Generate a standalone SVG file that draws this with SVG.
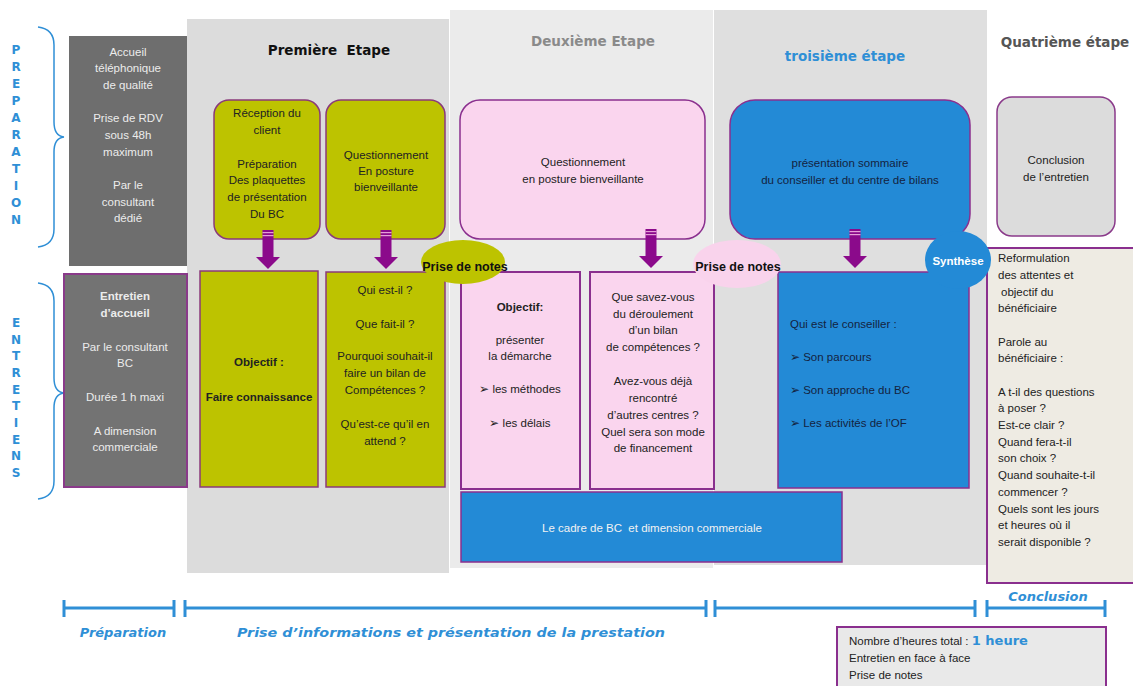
<svg xmlns="http://www.w3.org/2000/svg" width="1133" height="686" viewBox="0 0 1133 686">
<defs>
<style>
.t{font-family:"Liberation Sans",Arial,sans-serif;font-size:11.5px;text-anchor:middle;fill:#222}
.tl{font-family:"Liberation Sans",Arial,sans-serif;font-size:11.5px;fill:#222}
.w{fill:#ececec}
.nv{fill:#14233f}
.wh{fill:#ffffff}
.b{font-weight:bold}
.h{font-family:"DejaVu Sans",sans-serif;font-weight:bold;font-size:13.5px;text-anchor:middle;white-space:pre}
.v{font-family:"DejaVu Sans",sans-serif;font-weight:bold;font-size:12px;text-anchor:middle;fill:#2f8fd6}
.tm{font-family:"DejaVu Sans",sans-serif;font-weight:bold;font-style:italic;font-size:13px;text-anchor:middle;fill:#2f8fd6}
.pn{font-family:"Liberation Sans",Arial,sans-serif;font-size:12.5px;font-weight:bold;text-anchor:middle;fill:#111}
.yg{fill:#bdc300;stroke:#8a3a7a;stroke-width:1.5}
.pk{fill:#fad5ee;stroke:#8a2f8e;stroke-width:2}
.bl{fill:#238ad6;stroke:#8a2f8e;stroke-width:1.5}
.dk{fill:#6e6e6e}
.br{fill:none;stroke:#2f8fd6;stroke-width:1.5}
.tick{stroke:#2f8fd6;stroke-width:3}
.line{stroke:#2f8fd6;stroke-width:3}
</style>
<g id="arrowShape"><rect x="-5.5" y="0" width="11" height="29" fill="#8b0a8b"/><rect x="-5.5" y="2" width="11" height="1.2" fill="#e6a0d8"/><rect x="-5.5" y="5" width="11" height="1.2" fill="#e6a0d8"/><polygon points="-12,27 12,27 0,39" fill="#8b0a8b"/></g>
</defs>
<rect width="1133" height="686" fill="#ffffff"/>

<!-- background columns -->
<g id="columns">
<rect x="187" y="19" width="262" height="554" fill="#dcdcdc"/>
<rect x="450" y="10" width="263" height="558" fill="#ebebeb"/>
<rect x="714" y="10" width="273" height="555" fill="#dfdfdf"/>
</g>

<!-- headings -->
<g id="headings">
<text class="h" x="329" y="55" style="fill:#111">Première  Etape</text>
<text class="h" x="593" y="46" style="fill:#8a8a8a">Deuxième Etape</text>
<text class="h" x="845" y="61" style="fill:#2f8fd6">troisième étape</text>
<text class="h" x="1065" y="47" style="fill:#555555">Quatrième étape</text>
</g>

<!-- vertical labels and braces -->
<g id="preparation-label">
<text class="v" x="16" y="54">P</text><text class="v" x="16" y="71">R</text><text class="v" x="16" y="88">E</text><text class="v" x="16" y="105">P</text><text class="v" x="16" y="122">A</text><text class="v" x="16" y="139">R</text><text class="v" x="16" y="156">A</text><text class="v" x="16" y="173">T</text><text class="v" x="16" y="190">I</text><text class="v" x="16" y="207">O</text><text class="v" x="16" y="224">N</text>
<path class="br" d="M38,27 Q54,29 54,45 L54,122 Q54,136 64,137 Q54,138 54,152 L54,229 Q54,245 38,247"/>
</g>
<g id="entretiens-label">
<text class="v" x="16" y="327">E</text><text class="v" x="16" y="344">N</text><text class="v" x="16" y="360">T</text><text class="v" x="16" y="377">R</text><text class="v" x="16" y="394">E</text><text class="v" x="16" y="410">T</text><text class="v" x="16" y="427">I</text><text class="v" x="16" y="444">E</text><text class="v" x="16" y="460">N</text><text class="v" x="16" y="477">S</text>
<path class="br" d="M38,283 Q54,285 54,301 L54,378 Q54,392 64,393 Q54,394 54,408 L54,481 Q54,497 38,499"/>
</g>

<!-- left dark boxes -->
<g id="accueil-tel">
<rect class="dk" x="69" y="36" width="118" height="230"/>
<text class="t w" x="128" y="56">Accueil</text>
<text class="t w" x="128" y="72">téléphonique</text>
<text class="t w" x="128" y="89">de qualité</text>
<text class="t w" x="128" y="122">Prise de RDV</text>
<text class="t w" x="128" y="139">sous 48h</text>
<text class="t w" x="128" y="156">maximum</text>
<text class="t w" x="128" y="189">Par le</text>
<text class="t w" x="128" y="206">consultant</text>
<text class="t w" x="128" y="222">dédié</text>
</g>
<g id="entretien-accueil">
<rect x="64" y="274" width="123" height="213" fill="#737373" stroke="#8a3a8a" stroke-width="2"/>
<text class="t w b" x="125" y="300">Entretien</text>
<text class="t w b" x="125" y="317">d’accueil</text>
<text class="t w" x="125" y="351">Par le consultant</text>
<text class="t w" x="125" y="367">BC</text>
<text class="t w" x="125" y="401">Durée 1 h maxi</text>
<text class="t w" x="125" y="435">A dimension</text>
<text class="t w" x="125" y="451">commerciale</text>
</g>

<!-- top row nodes -->
<g id="reception">
<rect class="yg" x="214" y="100" width="106" height="139" rx="15"/>
<text class="t" x="267" y="117">Réception du</text>
<text class="t" x="267" y="134">client</text>
<text class="t" x="267" y="168">Préparation</text>
<text class="t" x="267" y="184">Des plaquettes</text>
<text class="t" x="267" y="201">de présentation</text>
<text class="t" x="267" y="218">Du BC</text>
</g>
<g id="questionnement1">
<rect class="yg" x="326" y="100" width="119" height="139" rx="15"/>
<text class="t" x="386" y="159">Questionnement</text>
<text class="t" x="386" y="175">En posture</text>
<text class="t" x="386" y="191">bienveillante</text>
</g>
<g id="questionnement2">
<rect x="460" y="100" width="245" height="139" rx="20" fill="#fad5ee" stroke="#8a2f8e" stroke-width="1.5"/>
<text class="t" x="583" y="166">Questionnement</text>
<text class="t" x="583" y="183">en posture bienveillante</text>
</g>
<g id="presentation-sommaire">
<rect class="bl" x="730" y="100" width="240" height="139" rx="25"/>
<text class="t nv" x="850" y="167">présentation sommaire</text>
<text class="t nv" x="850" y="184">du conseiller et du centre de bilans</text>
</g>
<g id="conclusion-entretien">
<rect x="997" y="97" width="118" height="139" rx="15" fill="#dcdcdc" stroke="#8a3a8a" stroke-width="1.5"/>
<text class="t" x="1056" y="164">Conclusion</text>
<text class="t" x="1056" y="181">de l’entretien</text>
</g>

<!-- connectors -->
<g id="connectors">
<use href="#arrowShape" x="268" y="230"/>
<use href="#arrowShape" x="386" y="230"/>
<use href="#arrowShape" x="651" y="229"/>
<use href="#arrowShape" x="855" y="229"/>
</g>

<!-- lower row nodes -->
<g id="objectif1">
<rect class="yg" x="200" y="271" width="118" height="216" stroke-width="2"/>
<text class="t b" x="259" y="366">Objectif :</text>
<text class="t b" x="259" y="401">Faire connaissance</text>
</g>
<g id="questions1">
<rect class="yg" x="326" y="272" width="119" height="215" stroke-width="2"/>
<text class="t" x="385" y="294">Qui est-il ?</text>
<text class="t" x="385" y="328">Que fait-il ?</text>
<text class="t" x="385" y="360">Pourquoi souhait-il</text>
<text class="t" x="385" y="377">faire un bilan de</text>
<text class="t" x="385" y="394">Compétences ?</text>
<text class="t" x="385" y="428">Qu’est-ce qu’il en</text>
<text class="t" x="385" y="445">attend ?</text>
</g>
<g id="objectif2">
<rect class="pk" x="461" y="272" width="119" height="217"/>
<text class="t b" x="520" y="311">Objectif:</text>
<text class="t" x="520" y="344">présenter</text>
<text class="t" x="520" y="360">la démarche</text>
<text class="t" x="520" y="393">➢ les méthodes</text>
<text class="t" x="520" y="427">➢ les délais</text>
</g>
<g id="questions2">
<rect class="pk" x="590" y="272" width="124" height="217"/>
<text class="t" x="653" y="301">Que savez-vous</text>
<text class="t" x="653" y="318">du déroulement</text>
<text class="t" x="653" y="334">d’un bilan</text>
<text class="t" x="653" y="351">de compétences ?</text>
<text class="t" x="653" y="385">Avez-vous déjà</text>
<text class="t" x="653" y="402">rencontré</text>
<text class="t" x="653" y="419">d’autres centres ?</text>
<text class="t" x="653" y="436">Quel sera son mode</text>
<text class="t" x="653" y="452">de financement</text>
</g>
<g id="conseiller">
<rect class="bl" x="778" y="272" width="191" height="216" stroke-width="2"/>
<text class="tl nv" x="790" y="328">Qui est le conseiller :</text>
<text class="tl nv" x="790" y="361">➢ Son parcours</text>
<text class="tl nv" x="790" y="394">➢ Son approche du BC</text>
<text class="tl nv" x="790" y="427">➢ Les activités de l’OF</text>
</g>
<g id="cadre-bc">
<rect class="bl" x="461" y="492" width="381" height="70"/>
<text class="t" x="652" y="532" style="fill:#f2f2f2;white-space:pre">Le cadre de BC  et dimension commerciale</text>
</g>
<g id="reformulation">
<rect x="987" y="248" width="150" height="335" fill="#eeebe3" stroke="#8a2f8e" stroke-width="2"/>
<text class="tl" x="998" y="262">Reformulation</text>
<text class="tl" x="998" y="279">des attentes et</text>
<text class="tl" x="1001" y="296">objectif du</text>
<text class="tl" x="998" y="312">bénéficiaire</text>
<text class="tl" x="998" y="346">Parole au</text>
<text class="tl" x="998" y="362">bénéficiaire :</text>
<text class="tl" x="998" y="396">A t-il des questions</text>
<text class="tl" x="998" y="412">à poser ?</text>
<text class="tl" x="998" y="429">Est-ce clair ?</text>
<text class="tl" x="998" y="446">Quand fera-t-il</text>
<text class="tl" x="998" y="462">son choix ?</text>
<text class="tl" x="998" y="479">Quand souhaite-t-il</text>
<text class="tl" x="998" y="496">commencer ?</text>
<text class="tl" x="998" y="513">Quels sont les jours</text>
<text class="tl" x="998" y="529">et heures où il</text>
<text class="tl" x="998" y="546">serait disponible ?</text>
</g>

<!-- badges -->
<g id="prise-notes-1">
<ellipse cx="463" cy="262" rx="42" ry="22" fill="#bdc300"/>
<text class="pn" x="465" y="271">Prise de notes</text>
</g>
<g id="prise-notes-2">
<ellipse cx="737" cy="264" rx="44" ry="24" fill="#f9d3ec"/>
<text class="pn" x="738" y="271">Prise de notes</text>
</g>
<g id="synthese">
<ellipse cx="958" cy="260" rx="33" ry="29" fill="#238ad6"/>
<text class="pn" x="958" y="265" style="fill:#ffffff;font-size:11.5px">Synthèse</text>
</g>

<!-- timeline -->
<g id="timeline">
<line class="line" x1="64" y1="608" x2="174" y2="608"/>
<line class="tick" x1="64" y1="600" x2="64" y2="617"/>
<line class="tick" x1="174" y1="600" x2="174" y2="617"/>
<line class="line" x1="185" y1="608" x2="706" y2="608"/>
<line class="tick" x1="185" y1="600" x2="185" y2="617"/>
<line class="tick" x1="706" y1="600" x2="706" y2="617"/>
<line class="line" x1="715" y1="608" x2="975" y2="608"/>
<line class="tick" x1="715" y1="600" x2="715" y2="617"/>
<line class="tick" x1="975" y1="600" x2="975" y2="617"/>
<line class="line" x1="987" y1="608" x2="1105" y2="608"/>
<line class="tick" x1="987" y1="600" x2="987" y2="617"/>
<line class="tick" x1="1105" y1="600" x2="1105" y2="617"/>
<text class="tm" x="123" y="637">Préparation</text>
<text class="tm" x="451" y="637" textLength="428" lengthAdjust="spacingAndGlyphs">Prise d’informations et présentation de la prestation</text>
<text class="tm" x="1048" y="601">Conclusion</text>
</g>

<!-- info box -->
<g id="info">
<rect x="837" y="627" width="269" height="65" fill="#e9e9e9" stroke="#8a2f8e" stroke-width="2"/>
<text class="tl" x="849" y="645">Nombre d’heures total : <tspan style="font-family:'DejaVu Sans',sans-serif;font-weight:bold;font-size:13px;fill:#2f8fd6">1 heure</tspan></text>
<text class="tl" x="849" y="662">Entretien en face à face</text>
<text class="tl" x="849" y="679">Prise de notes</text>
</g>
</svg>
